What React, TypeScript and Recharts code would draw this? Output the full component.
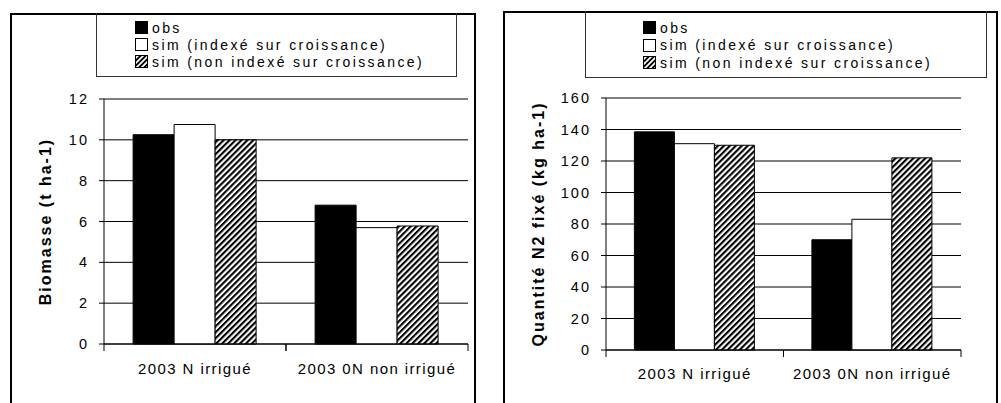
import React from 'react';
import { BarChart, Bar, XAxis, YAxis, CartesianGrid, Legend, Label } from 'recharts';

const categories = ['2003 N irrigué', '2003 0N non irrigué'];
const seriesNames = ['obs', 'sim (indexé sur croissance)', 'sim (non indexé sur croissance)'];

// Biomasse (t ha-1)
const biomObs = [10.25, 6.8];
const biomSimIdx = [10.75, 5.7];
const biomSimNonIdx = [10.0, 5.78];
const biomTicks = [0, 2, 4, 6, 8, 10, 12];

// Quantité N2 fixé (kg ha-1)
const n2Obs = [138.5, 70];
const n2SimIdx = [131, 83];
const n2SimNonIdx = [130, 122];
const n2Ticks = [0, 20, 40, 60, 80, 100, 120, 140, 160];

const FONT = '"Liberation Sans", Arial, sans-serif';
const GRAY = '#808080';

const buildRows = (a: number[], b: number[], c: number[]) =>
  categories.map((name, i) => ({ name, s0: a[i], s1: b[i], s2: c[i] }));

const biomData = buildRows(biomObs, biomSimIdx, biomSimNonIdx);
const n2Data = buildRows(n2Obs, n2SimIdx, n2SimNonIdx);

const Swatch = ({ idx, pid }: { idx: number; pid: string }) => (
  <svg width={13} height={13} style={{ display: 'block', marginRight: 4 }}>
    <defs>
      <pattern id={pid} width={3.6} height={3.6} patternUnits="userSpaceOnUse" patternTransform="rotate(45)">
        <rect width={3.6} height={3.6} fill="#fff" />
        <rect width={1.8} height={3.6} fill="#000" />
      </pattern>
    </defs>
    <rect x={0.5} y={0.5} width={12} height={12} stroke="#000" strokeWidth={1}
      fill={idx === 0 ? '#000' : idx === 1 ? '#fff' : `url(#${pid})`} />
  </svg>
);

const makeLegend = (prefix: string, lineH: number) => () => (
  <div style={{ fontFamily: FONT, fontSize: 14, letterSpacing: 2.4, color: '#000' }}>
    {seriesNames.map((s, i) => (
      <div key={s} style={{ display: 'flex', alignItems: 'center', height: lineH, whiteSpace: 'nowrap' }}>
        <Swatch idx={i} pid={`${prefix}-lg-${i}`} />
        <span>{s}</span>
      </div>
    ))}
  </div>
);

const makeCatTick = (gap: number) => (props: any) => {
  const { x, y, payload } = props;
  const off = payload && payload.offset ? payload.offset : 0;
  const axisY = y - gap;
  return (
    <g>
      {off > 0 && (
        <>
          <line x1={x - off} x2={x - off} y1={axisY} y2={axisY + 7} stroke="#000" />
          <line x1={x + off} x2={x + off} y1={axisY} y2={axisY + 7} stroke="#000" />
        </>
      )}
      <text x={x} y={y} dy="0.71em" textAnchor="middle" fontFamily={FONT} fontSize={15}
        letterSpacing={1.4} fill="#000">
        {payload.value}
      </text>
    </g>
  );
};

interface PanelProps {
  prefix: string;
  data: any[];
  ticks: number[];
  title: string;
  width: number;
  margin: { top: number; right: number; bottom: number; left: number };
  labelOffset: number;
  catGap: number;
  legendPos: { left: number; top: number };
  legendLine: number;
}

const Panel = ({ prefix, data, ticks, title, width, margin, labelOffset, catGap, legendPos, legendLine }: PanelProps) => (
  <BarChart width={width} height={403} data={data} margin={margin} barCategoryGap="16%" barGap={0}>
    <defs>
      <pattern id={`${prefix}-hatch`} width={4.2} height={4.2} patternUnits="userSpaceOnUse" patternTransform="rotate(45)">
        <rect width={4.2} height={4.2} fill="#fff" />
        <rect width={2.1} height={4.2} fill="#000" />
      </pattern>
    </defs>
    <CartesianGrid vertical={false} stroke="#000" strokeOpacity={1} />
    <XAxis dataKey="name" height={30} axisLine={{ stroke: '#000' }} tickLine={false} tickSize={0}
      tickMargin={catGap} tick={makeCatTick(catGap)} interval={0} />
    <XAxis xAxisId="top" dataKey="name" orientation="top" height={0} tick={false} tickLine={false}
      axisLine={{ stroke: GRAY }} />
    <YAxis width={70} domain={[ticks[0], ticks[ticks.length - 1]]} ticks={ticks} interval={0}
      axisLine={{ stroke: '#000' }} tickLine={{ stroke: '#000' }} tickSize={5} tickMargin={10}
      tick={{ fill: '#000', fontSize: 14.5, fontFamily: FONT, letterSpacing: 2 }}>
      <Label value={title} angle={-90} position="insideLeft" offset={labelOffset}
        style={{ textAnchor: 'middle', fontFamily: FONT, fontSize: 16, fontWeight: 'bold', letterSpacing: 2, fill: '#000' }} />
    </YAxis>
    <YAxis yAxisId="right" orientation="right" width={0} tick={false} tickLine={false}
      axisLine={{ stroke: GRAY }} />
    <Legend layout="vertical" align="center" verticalAlign="middle" content={makeLegend(prefix, legendLine)}
      wrapperStyle={{ left: legendPos.left, top: legendPos.top, width: 'auto' }} />
    <Bar dataKey="s0" name={seriesNames[0]} fill="#000" stroke="#000" isAnimationActive={false} />
    <Bar dataKey="s1" name={seriesNames[1]} fill="#fff" stroke="#000" isAnimationActive={false} />
    <Bar dataKey="s2" name={seriesNames[2]} fill={`url(#${prefix}-hatch)`} stroke="#000" isAnimationActive={false} />
  </BarChart>
);

export default function App() {
  return (
    <div style={{ position: 'absolute', left: 0, top: 0, width: 1001, height: 403, background: '#fff', overflow: 'hidden' }}>
      {/* panel frames */}
      <div style={{ position: 'absolute', left: 10, top: 13, width: 462, height: 400, border: '2px solid #000', borderBottom: 'none' }} />
      <div style={{ position: 'absolute', left: 96, top: 13, width: 359, height: 63, border: '1px solid #333', borderTop: 'none' }} />
      <div style={{ position: 'absolute', left: 503, top: 11, width: 491, height: 400, border: '2px solid #000', borderBottom: 'none' }} />
      <div style={{ position: 'absolute', left: 585, top: 11, width: 400, height: 66, border: '1px solid #333', borderTop: 'none' }} />

      <div style={{ position: 'absolute', left: 0, top: 0 }}>
        <Panel prefix="biom" data={biomData} ticks={biomTicks} title="Biomasse (t ha-1)" width={490}
          margin={{ top: 99, right: 22, bottom: 29, left: 34 }} labelOffset={11} catGap={19}
          legendPos={{ left: 135, top: 19 }} legendLine={17} />
      </div>
      <div style={{ position: 'absolute', left: 500, top: 0 }}>
        <Panel prefix="n2" data={n2Data} ticks={n2Ticks} title="Quantité N2 fixé (kg ha-1)" width={501}
          margin={{ top: 98, right: 40, bottom: 23, left: 36 }} labelOffset={2} catGap={18}
          legendPos={{ left: 143, top: 19 }} legendLine={17.5} />
      </div>
    </div>
  );
}
